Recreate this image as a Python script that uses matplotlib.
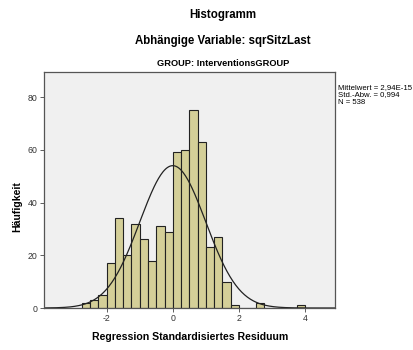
import numpy as np
import matplotlib
matplotlib.use("Agg")
import matplotlib.pyplot as plt

plt.rcParams['font.family'] = ['Liberation Sans', 'DejaVu Sans']

bin_edges = [-2.75, -2.5, -2.25, -2.0, -1.75, -1.5, -1.25, -1.0, -0.75, -0.5, -0.25,
             0.0, 0.25, 0.5, 0.75, 1.0, 1.25, 1.5, 1.75, 2.0, 2.25, 2.5, 2.75,
             3.0, 3.25, 3.5, 3.75, 4.0]
counts = [2, 3, 5, 17, 34, 20, 32, 26, 18, 31, 29,
          59, 60, 75, 63, 23, 27, 10, 1, 0, 0, 2,
          0, 0, 0, 0, 1]
mean = 2.94e-15
sd = 0.994
n = 538
x_ticks = [-2, 0, 2, 4]
y_ticks = [0, 20, 40, 60, 80]

fig = plt.figure(figsize=(4.14, 3.5), dpi=100)
W, H = 414, 350
ax = fig.add_axes([44 / W, 1 - 308 / H, (335 - 44) / W, (308 - 72) / H])
ax.set_facecolor('#F0F0F0')

lefts = bin_edges[:-1]
widths = np.diff(bin_edges)
ax.bar(lefts, counts, width=widths, align='edge', color='#D4CF98',
       edgecolor='#222222', linewidth=0.8)

bw = widths[0]
xs = np.linspace(-3.89, 4.9, 400)
ys = n * bw / (sd * np.sqrt(2 * np.pi)) * np.exp(-0.5 * ((xs - mean) / sd) ** 2)
ax.plot(xs, ys, color='#222222', linewidth=0.9)

ax.set_xlim(-3.89, 4.9)
ax.set_ylim(0, 89.5)
ax.set_xticks(x_ticks)
ax.set_xticklabels(['-2', '0', '2', '4'])
ax.set_yticks(y_ticks)
ax.tick_params(axis='both', labelsize=6.3, labelcolor='#333333', color='#444444',
               length=3, width=0.6, direction='out', pad=1.5)
for s in ax.spines.values():
    s.set_color('#555555')
    s.set_linewidth(0.9)

fig.text(223 / W, 1 - 15 / H, 'Histogramm', ha='center', va='center',
         fontsize=8.3, fontweight='bold')
fig.text(223 / W, 1 - 41 / H, 'Abhängige Variable: sqrSitzLast', ha='center', va='center',
         fontsize=8.3, fontweight='bold')
fig.text(223 / W, 1 - 63 / H, 'GROUP: InterventionsGROUP', ha='center', va='center',
         fontsize=6.7, fontweight='bold')
fig.text(17 / W, 1 - 207 / H, 'Häufigkeit', ha='center', va='center', rotation=90,
         fontsize=7.6, fontweight='bold')
fig.text(190 / W, 1 - 337 / H, 'Regression Standardisiertes Residuum', ha='center', va='center',
         fontsize=7.6, fontweight='bold')
fig.text(338 / W, 1 - 84 / H,
         'Mittelwert = 2,94E-15\nStd.-Abw. = 0,994\nN = 538',
         ha='left', va='top', fontsize=5.6, linespacing=1.05)

fig.savefig('out.png', dpi=100, facecolor='white')
